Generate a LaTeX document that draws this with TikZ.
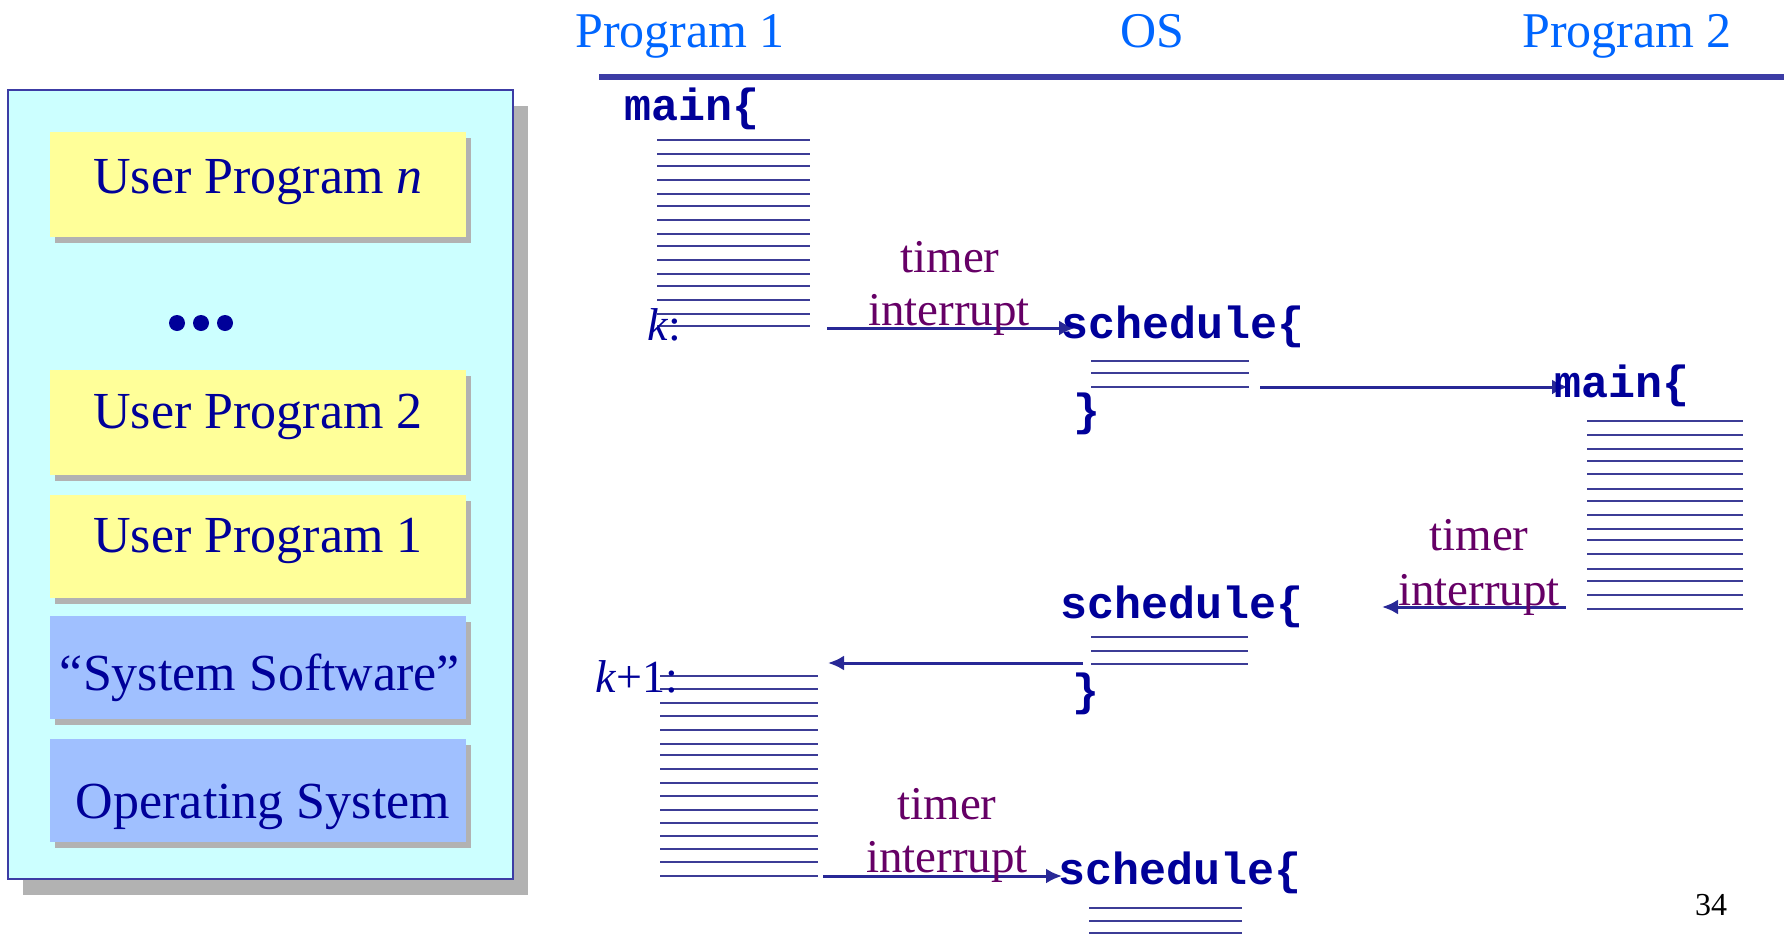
\documentclass[tikz,border=0pt]{standalone}
\usepackage{fontspec}
\setmainfont{Liberation Serif}
\newfontfamily\codefont{Liberation Mono}
\usetikzlibrary{arrows.meta,shadows}
\definecolor{navy}{RGB}{0,0,153}
\definecolor{hdr}{RGB}{0,102,255}
\definecolor{purp}{RGB}{102,0,102}
\definecolor{cyanbg}{RGB}{204,255,255}
\definecolor{ylw}{RGB}{255,255,153}
\definecolor{bluebox}{RGB}{160,192,255}
\definecolor{shd}{RGB}{178,178,178}
\definecolor{rulec}{RGB}{60,60,165}
\definecolor{codeln}{RGB}{60,60,150}
\definecolor{arrc}{RGB}{40,40,150}
\tikzset{
  outerbox/.style={draw=rulec, line width=2pt, fill=cyanbg, minimum width=505pt, minimum height=789pt, inner sep=0,
    drop shadow={shadow xshift=15pt, shadow yshift=-16pt, fill=shd, opacity=1}},
  ybox/.style={fill=ylw, minimum width=416pt, minimum height=105pt, inner sep=0,
    drop shadow={shadow xshift=5pt, shadow yshift=-6pt, fill=shd, opacity=1}},
  bbox/.style={ybox, fill=bluebox},
  boxtxt/.style={font=\fontsize{52}{60}\selectfont, text=navy, inner sep=0, anchor=base},
  hdrtxt/.style={font=\fontsize{50}{58}\selectfont, text=hdr, inner sep=0, anchor=base west},
  code/.style={font=\codefont\bfseries\fontsize{45}{52}\selectfont, text=navy, inner sep=0, anchor=base west},
  lbl/.style={font=\fontsize{46}{52}\selectfont, text=navy, inner sep=0, anchor=base west},
  tmr/.style={font=\fontsize{47}{54}\selectfont, text=purp, inner sep=0, anchor=base},
  codeline/.style={draw=codeln, line width=2.5pt},
  arr/.style={draw=arrc, line width=3pt, -{Latex[length=16pt,width=15pt]}},
  dot/.style={circle, fill=navy, minimum size=16pt, inner sep=0}
}
\begin{document}
\begin{tikzpicture}[x=1pt,y=-1pt]
\useasboundingbox (0,0) rectangle (1784,934);

% ---- left panel ----
\node[outerbox] (outer) at (260.5,484.5) {};
\node[ybox] (upn) at (258,184.5) {};
\node[boxtxt] (upnt) at (258,193) {User Program \textit{n}};
\node[dot] (d1) at (177,323) {};
\node[dot] (d2) at (201,323) {};
\node[dot] (d3) at (225,323) {};
\node[ybox] (up2) at (258,422.5) {};
\node[boxtxt] (up2t) at (258,428) {User Program 2};
\node[ybox, minimum height=103pt] (up1) at (258,546.5) {};
\node[boxtxt] (up1t) at (258,552) {User Program 1};
\node[bbox, minimum height=103pt] (ss) at (258,667.5) {};
\node[boxtxt] (sst) at (260,690) {``System Software''};
\node[bbox, minimum height=103pt] (os) at (258,790.5) {};
\node[boxtxt] (ost) at (263,818) {Operating System};

% ---- headers ----
\node[hdrtxt] (h1) at (575,48) {Program 1};
\node[hdrtxt] (h2) at (1120,48) {OS};
\node[hdrtxt] (h3) at (1522,48) {Program 2};
\coordinate (hl) at (599,77);
\coordinate (hr) at (1784,77);
\draw[line width=6pt, rulec] (hl) -- (hr);

% ---- program 1 first run ----
\foreach \y in {140,154,166,180,194,206,220,234,246,260,274,286,300,314,326}
  \draw[codeline] (657,\y) -- (810,\y);
\node[code] (main1) at (624,120) {main\{};
\node[lbl] (k) at (647,340) {\textit{k}:};

% arrow 1
\coordinate (a1s) at (827,328);
\coordinate (a1e) at (1075,328);
\draw[arr] (a1s) -- (a1e);
\node[tmr] (t1a) at (950,272) {timer};
\node[tmr] (t1b) at (949,325) {interrupt};

% ---- schedule 1 ----
\foreach \y in {361,373,387}
  \draw[codeline] (1091,\y) -- (1249,\y);
\node[code] (s1) at (1061,338) {schedule\{};
\node[code] (c1) at (1073,425) {\}};

% arrow 2
\coordinate (a2s) at (1260,387);
\coordinate (a2e) at (1568,387);
\draw[arr] (a2s) -- (a2e);

% ---- program 2 ----
\foreach \y in {421,435,449,461,474,489,501,515,529,540,554,569,581,595,609}
  \draw[codeline] (1587,\y) -- (1743,\y);
\node[code] (main2) at (1554,397) {main\{};

% arrow 3
\coordinate (a3s) at (1566,607);
\coordinate (a3e) at (1382,607);
\draw[arr] (a3s) -- (a3e);
\node[tmr] (t2a) at (1479,550) {timer};
\node[tmr] (t2b) at (1479,605) {interrupt};

% ---- schedule 2 ----
\foreach \y in {637,651,664}
  \draw[codeline] (1091,\y) -- (1248,\y);
\node[code] (s2) at (1060,618) {schedule\{};
\node[code] (c2) at (1072,705) {\}};

% arrow back to program 1
\coordinate (a4s) at (1083,663);
\coordinate (a4e) at (828,663);
\draw[arr] (a4s) -- (a4e);

% ---- program 1 second run ----
\foreach \y in {676,689,703,716,730,744,755,769,783,796,810,823,836,849,862,876}
  \draw[codeline] (660,\y) -- (818,\y);
\node[lbl] (k1) at (595,692) {\textit{k}+1:};

% arrow 5
\coordinate (a5s) at (823,876);
\coordinate (a5e) at (1062,876);
\draw[arr] (a5s) -- (a5e);
\node[tmr] (t3a) at (947,819) {timer};
\node[tmr] (t3b) at (947,872) {interrupt};

% ---- schedule 3 ----
\foreach \y in {908,921,933}
  \draw[codeline] (1089,\y) -- (1242,\y);
\node[code] (s3) at (1058,884) {schedule\{};

% page number
\node[font=\fontsize{32}{38}\selectfont, inner sep=0, anchor=base west] (pg) at (1695,915) {34};
\end{tikzpicture}
\end{document}
